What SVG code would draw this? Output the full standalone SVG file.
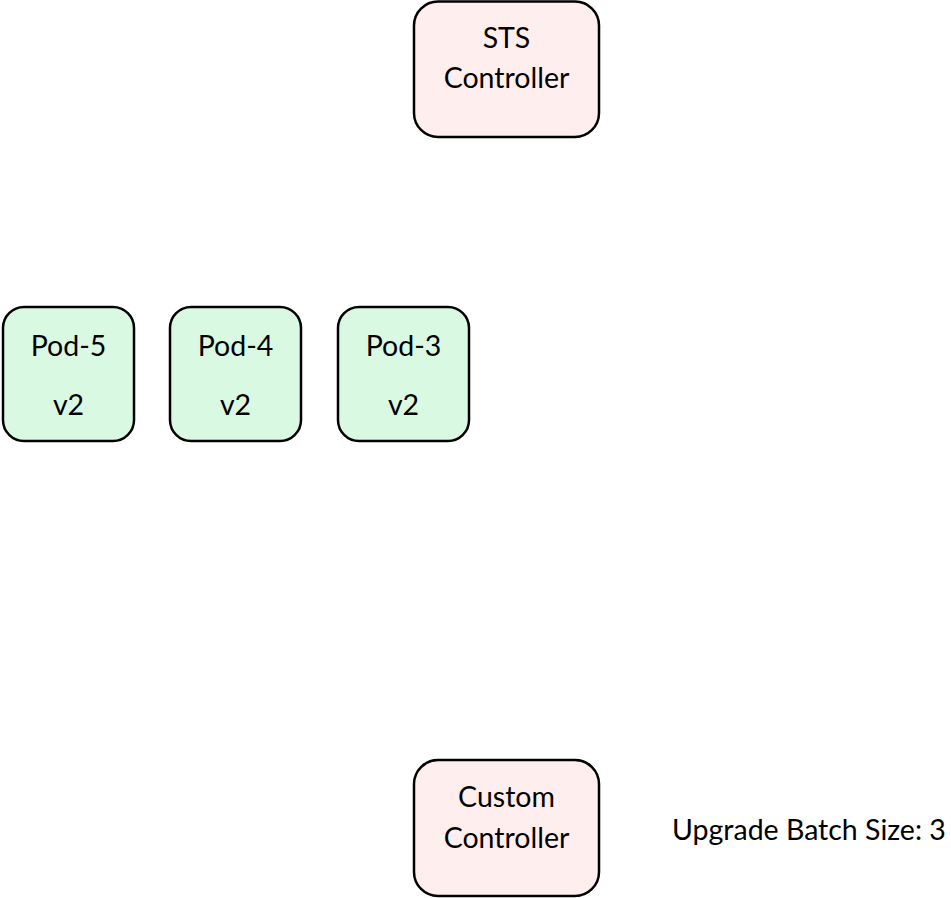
<svg xmlns="http://www.w3.org/2000/svg" width="951" height="898" viewBox="0 0 951 898">
<style>
text{font-family:Lato,"Liberation Sans",sans-serif;font-size:28.5px;fill:#000;text-anchor:middle}
.ctl{fill:#FEEEEE;stroke:#000;stroke-width:2.5}
.pod{fill:#DAF9E3;stroke:#000;stroke-width:2.5}
</style>
<rect width="951" height="898" fill="#fff"/>
<g id="sts-controller">
<rect class="ctl" x="414" y="1.5" width="185" height="135.5" rx="24"/>
<text x="506.5" y="48">STS</text>
<text x="506.5" y="88">Controller</text>
</g>
<g id="pod-5">
<rect class="pod" x="3" y="307" width="131" height="134" rx="21"/>
<text x="68.5" y="356">Pod-5</text>
<text x="68.5" y="415">v2</text>
</g>
<g id="pod-4">
<rect class="pod" x="170" y="307" width="131" height="134" rx="21"/>
<text x="235.5" y="356">Pod-4</text>
<text x="235.5" y="415">v2</text>
</g>
<g id="pod-3">
<rect class="pod" x="338" y="307" width="131" height="134" rx="21"/>
<text x="403.5" y="356">Pod-3</text>
<text x="403.5" y="415">v2</text>
</g>
<g id="custom-controller">
<rect class="ctl" x="414" y="760" width="185" height="136" rx="24"/>
<text x="506.5" y="807">Custom</text>
<text x="506.5" y="848">Controller</text>
</g>
<g id="batch-label">
<text x="672" y="840" style="text-anchor:start">Upgrade Batch Size: 3</text>
</g>
<g id="connectors"/>
</svg>
